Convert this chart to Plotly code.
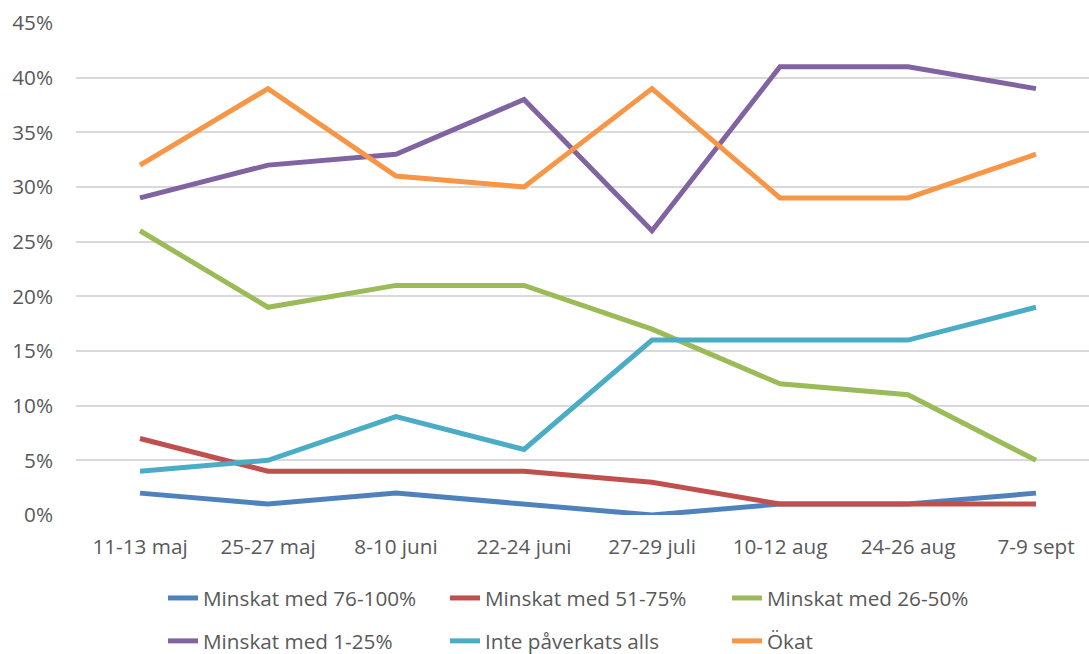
import plotly.graph_objects as go

categories = ["11-13 maj", "25-27 maj", "8-10 juni", "22-24 juni", "27-29 juli", "10-12 aug", "24-26 aug", "7-9 sept"]
series_names = ["Minskat med 76-100%", "Minskat med 51-75%", "Minskat med 26-50%",
                "Minskat med 1-25%", "Inte påverkats alls", "Ökat"]
minskat_76_100 = [2, 1, 2, 1, 0, 1, 1, 2]
minskat_51_75 = [7, 4, 4, 4, 3, 1, 1, 1]
minskat_26_50 = [26, 19, 21, 21, 17, 12, 11, 5]
minskat_1_25 = [29, 32, 33, 38, 26, 41, 41, 39]
inte_paverkats = [4, 5, 9, 6, 16, 16, 16, 19]
okat = [32, 39, 31, 30, 39, 29, 29, 33]
y_ticks = [0, 5, 10, 15, 20, 25, 30, 35, 40, 45]
y_ticklabels = [f"{v}%" for v in y_ticks]

values = [minskat_76_100, minskat_51_75, minskat_26_50, minskat_1_25, inte_paverkats, okat]
colors = ["#4F81BD", "#C0504D", "#9BBB59", "#8064A2", "#4BACC6", "#F79646"]
legends = ["legend", "legend2", "legend3", "legend", "legend2", "legend3"]

FONT = "Open Sans"
TXT = "#595959"
FS = 20.7

fig = go.Figure()
for i, (name, vals, col, lg) in enumerate(zip(series_names, values, colors, legends)):
    fig.add_trace(go.Scatter(
        x=list(range(len(categories))), y=vals, name=name, mode="lines",
        line=dict(color=col, width=5), legend=lg, legendgroup=f"g{i}",
    ))

W, H = 1089, 654
L, R, T, B = 76, 0, 23, 139

def cx(x):
    return x / W

def cy(y):
    return 1 - y / H

legend_common = dict(
    orientation="v", xanchor="left", yanchor="top", xref="container", yref="container",
    font=dict(family=FONT, size=FS, color=TXT),
    bgcolor="rgba(0,0,0,0)", tracegroupgap=13, itemwidth=30,
)

fig.update_layout(
    width=W, height=H,
    margin=dict(l=L, r=R, t=T, b=B, autoexpand=False),
    paper_bgcolor="white", plot_bgcolor="white",
    font=dict(family=FONT, size=FS, color=TXT),
    showlegend=True,
    legend=dict(x=cx(163), y=cy(578), **legend_common),
    legend2=dict(x=cx(445), y=cy(578), **legend_common),
    legend3=dict(x=cx(727), y=cy(578), **legend_common),
    xaxis=dict(
        tickmode="array", tickvals=list(range(len(categories))), ticktext=categories,
        range=[-0.5, 7.5 - 11 / 128], showgrid=False, zeroline=False, showline=False,
        ticks="", tickfont=dict(family=FONT, size=FS, color=TXT), ticklabelstandoff=17,
        fixedrange=True, automargin=False,
    ),
    yaxis=dict(
        tickmode="array", tickvals=y_ticks, ticktext=y_ticklabels, range=[0, 45],
        showgrid=True, gridcolor="#D9D9D9", gridwidth=1.5, zeroline=False, showline=False,
        ticks="", tickfont=dict(family=FONT, size=FS, color=TXT), ticklabelstandoff=22,
        fixedrange=True, automargin=False,
    ),
)

fig.write_html(
    "out.html",
    config={"displayModeBar": False},
    post_script="document.body.style.margin='0';document.body.style.overflow='hidden';",
)
